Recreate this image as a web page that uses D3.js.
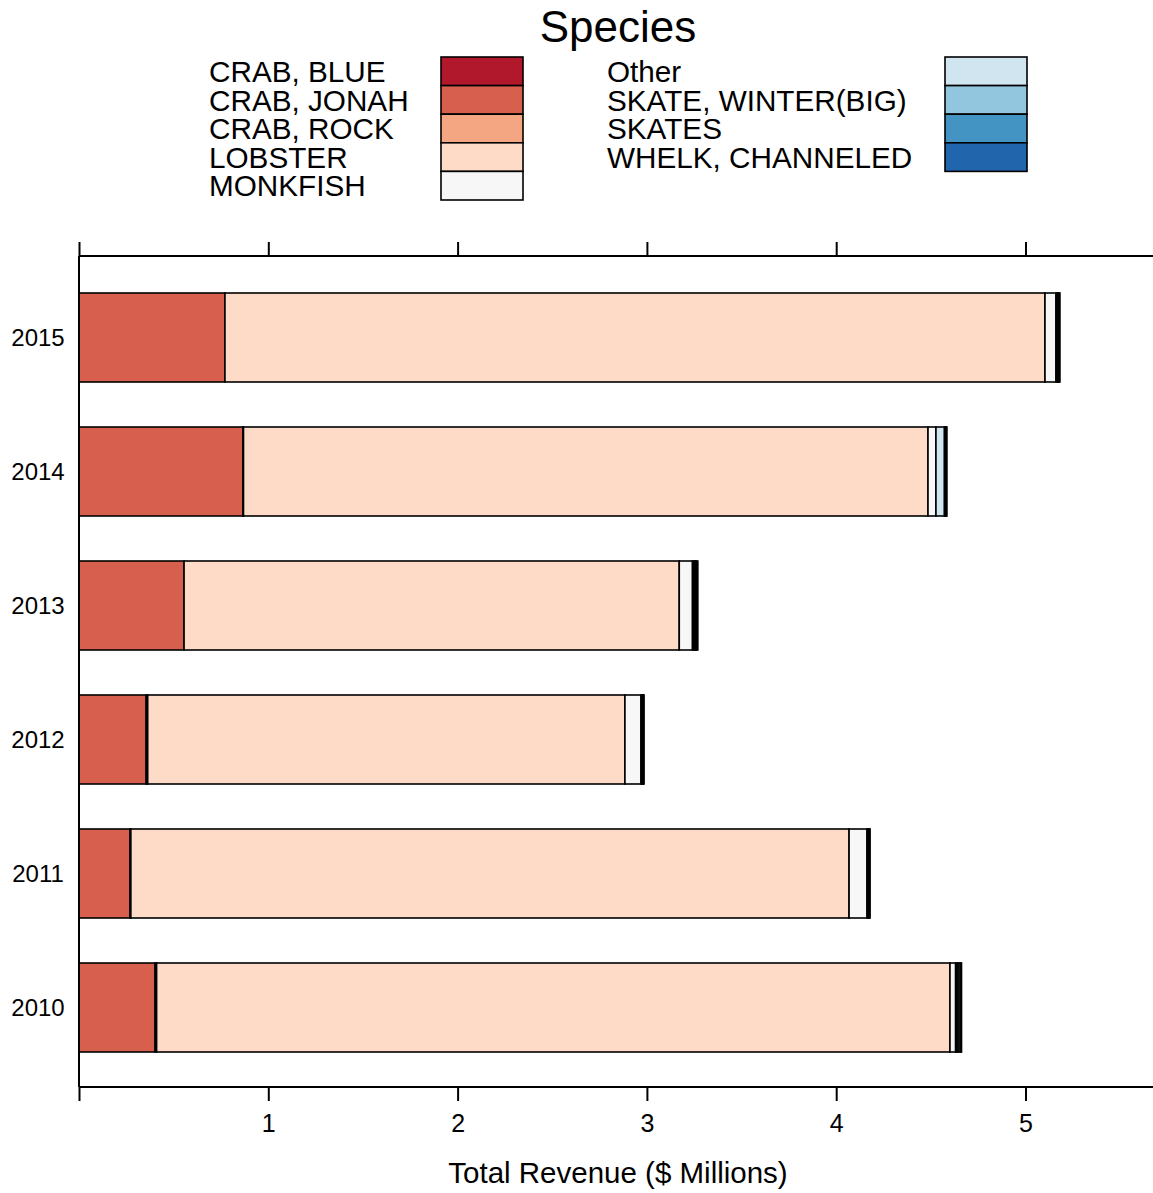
<!DOCTYPE html>
<html>
<head>
<meta charset="utf-8">
<script src="https://cdn.jsdelivr.net/npm/d3@7"></script>
<style>
  html, body { margin: 0; padding: 0; background: #fff; }
  svg { display: block; font-family: "Liberation Sans", Arial, sans-serif; }
</style>
</head>
<body>
<svg id="chart" width="1153" height="1193"></svg>
<script>
// Species shown in the stack, in stacking order (left to right)
const species = [
  "CRAB, BLUE", "CRAB, JONAH", "CRAB, ROCK", "LOBSTER", "MONKFISH",
  "Other", "SKATE, WINTER(BIG)", "SKATES", "WHELK, CHANNELED"
];
const speciesColors = [
  "#b2182b", "#d6604d", "#f4a582", "#fddbc7", "#f7f7f7",
  "#d1e5f0", "#92c5de", "#4393c3", "#2166ac"
];
const years = ["2010", "2011", "2012", "2013", "2014", "2015"];

// Revenue by species for each year ($ millions), same order as `species`
const rev2010 = [0, 0.402, 0.008, 4.191, 0.030, 0.008, 0.010, 0.010, 0.003];
const rev2011 = [0, 0.270, 0.004, 3.794, 0.095, 0.005, 0.004, 0.003, 0.004];
const rev2012 = [0, 0.355, 0.008, 2.521, 0.085, 0.005, 0.004, 0.003, 0.004];
const rev2013 = [0, 0.555, 0.000, 2.616, 0.070, 0.008, 0.006, 0.006, 0.008];
const rev2014 = [0, 0.866, 0.003, 3.616, 0.042, 0.045, 0.005, 0.004, 0.004];
const rev2015 = [0, 0.771, 0.000, 4.332, 0.058, 0.008, 0.004, 0.004, 0.005];
const revenue = [rev2010, rev2011, rev2012, rev2013, rev2014, rev2015];

const xTicks = [0, 1, 2, 3, 4, 5];
const xTickLabels = ["", "1", "2", "3", "4", "5"];

const rows = years.map((y, i) => {
  const r = { year: y };
  species.forEach((s, j) => r[s] = revenue[i][j]);
  return r;
});

const svg = d3.select("#chart");

// Panel geometry
const panel = { left: 79, top: 256, bottom: 1087 };
const x = d3.scaleLinear().domain([0, 5.70]).range([panel.left, panel.left + 5.70 * 189.3]);
const yCenter = d3.scalePoint().domain(years).range([1007.5, 337.5]);
const barH = 89;
const color = d3.scaleOrdinal().domain(species).range(speciesColors);

const stacked = d3.stack().keys(species)(rows);

// Bars
const layers = svg.append("g").selectAll("g")
  .data(stacked)
  .join("g")
  .attr("fill", d => color(d.key));

layers.selectAll("rect")
  .data(d => d)
  .join("rect")
  .attr("x", d => x(d[0]))
  .attr("width", d => Math.max(0, x(d[1]) - x(d[0])))
  .attr("y", d => yCenter(d.data.year) - barH / 2)
  .attr("height", barH)
  .attr("stroke", "#000")
  .attr("stroke-width", 1.6);

// Panel frame
const frame = svg.append("g").attr("stroke", "#000").attr("stroke-width", 2).attr("fill", "none");
frame.append("line").attr("x1", panel.left).attr("x2", 1160).attr("y1", panel.top).attr("y2", panel.top);
frame.append("line").attr("x1", panel.left).attr("x2", 1160).attr("y1", panel.bottom).attr("y2", panel.bottom);
frame.append("line").attr("x1", panel.left).attr("x2", panel.left).attr("y1", panel.top).attr("y2", panel.bottom);

// Top and bottom ticks
const topAxis = d3.axisTop(x).tickValues(xTicks).tickSize(14).tickFormat("");
const bottomAxis = d3.axisBottom(x).tickValues(xTicks).tickSize(14)
  .tickPadding(13).tickFormat((d, i) => xTickLabels[i]);

const gTop = svg.append("g").attr("transform", `translate(0,${panel.top})`).call(topAxis);
const gBot = svg.append("g").attr("transform", `translate(0,${panel.bottom})`).call(bottomAxis);
[gTop, gBot].forEach(g => {
  g.select(".domain").remove();
  g.selectAll(".tick line").attr("stroke", "#000").attr("stroke-width", 2);
});
gBot.selectAll(".tick text")
  .attr("font-size", 25).attr("fill", "#000")
  .attr("font-family", "Liberation Sans, Arial, sans-serif");

// Year labels
svg.append("g").selectAll("text")
  .data(years)
  .join("text")
  .attr("x", 38)
  .attr("y", d => yCenter(d))
  .attr("dy", "0.35em")
  .attr("text-anchor", "middle")
  .attr("font-size", 24)
  .text(d => d);

// Axis title
svg.append("text")
  .attr("x", 618).attr("y", 1183)
  .attr("text-anchor", "middle")
  .attr("font-size", 29.5)
  .text("Total Revenue ($ Millions)");

// Legend
svg.append("text")
  .attr("x", 618).attr("y", 42)
  .attr("text-anchor", "middle")
  .attr("font-size", 44)
  .text("Species");

const rowH = 28.6;
const legendCols = [
  { keys: species.slice(0, 5), textX: 209, boxX: 441 },
  { keys: species.slice(5), textX: 607, boxX: 945 }
];
legendCols.forEach(col => {
  const g = svg.append("g");
  col.keys.forEach((k, i) => {
    const top = 57 + i * rowH;
    g.append("rect")
      .attr("x", col.boxX).attr("y", top)
      .attr("width", 82).attr("height", rowH)
      .attr("fill", color(k))
      .attr("stroke", "#000").attr("stroke-width", 1.6);
    g.append("text")
      .attr("x", col.textX).attr("y", top + rowH / 2)
      .attr("dy", "0.36em")
      .attr("font-size", 29.7)
      .text(k);
  });
});
</script>
</body>
</html>
